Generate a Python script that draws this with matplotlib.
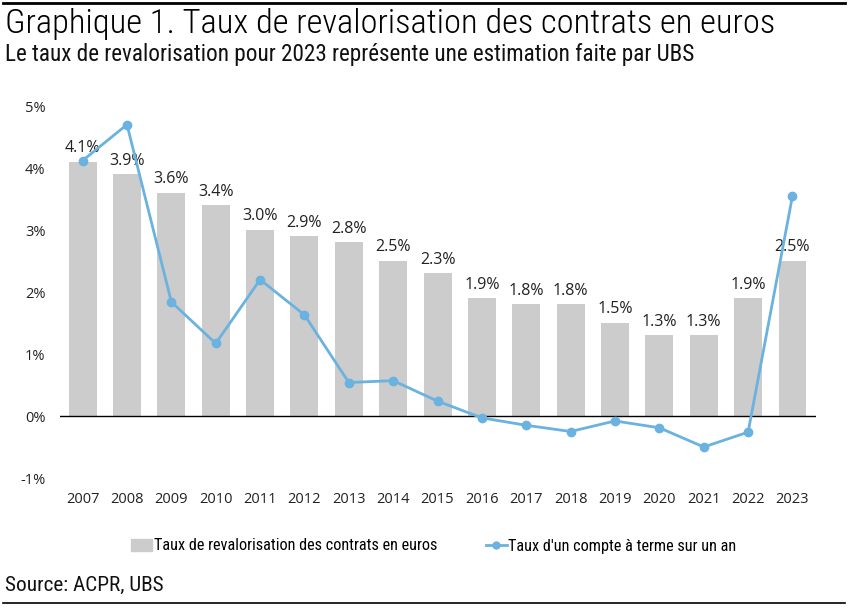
import matplotlib
matplotlib.use("Agg")
import matplotlib.pyplot as plt
from matplotlib import font_manager
from matplotlib.lines import Line2D
from matplotlib.patches import Patch
import numpy as np

# ---- data ----
years = ["2007", "2008", "2009", "2010", "2011", "2012", "2013", "2014", "2015",
         "2016", "2017", "2018", "2019", "2020", "2021", "2022", "2023"]
revalo = [4.1, 3.9, 3.6, 3.4, 3.0, 2.9, 2.8, 2.5, 2.3,
          1.9, 1.8, 1.8, 1.5, 1.3, 1.3, 1.9, 2.5]
revalo_labels = ["4.1%", "3.9%", "3.6%", "3.4%", "3.0%", "2.9%", "2.8%", "2.5%", "2.3%",
                 "1.9%", "1.8%", "1.8%", "1.5%", "1.3%", "1.3%", "1.9%", "2.5%"]
compte_terme = [4.12, 4.70, 1.84, 1.17, 2.20, 1.63, 0.54, 0.57, 0.24,
                -0.03, -0.15, -0.25, -0.08, -0.19, -0.50, -0.26, 3.55]
y_ticks = [-1, 0, 1, 2, 3, 4, 5]

BAR_COLOR = "#CCCCCC"
LINE_COLOR = "#6AB2DF"

# narrow face for titles/legend (Roboto Condensed in the sandbox)
installed = {f.name for f in font_manager.fontManager.ttflist}
narrow_candidates = ["Roboto Condensed", "Liberation Sans Narrow", "Open Sans Condensed"]
narrow_name = next((n for n in narrow_candidates if n in installed), "DejaVu Sans")
NARROW = [narrow_name, "DejaVu Sans"]
BODY = ["Open Sans", "DejaVu Sans"]

fig = plt.figure(figsize=(8.57, 6.08), dpi=100)
ax = fig.add_axes([60 / 857, 1 - 478 / 608, (816 - 60) / 857, (478 - 106) / 608])

x = np.arange(len(years))
ax.bar(x, revalo, width=0.63, color=BAR_COLOR, zorder=1)
ax.plot(x, compte_terme, color=LINE_COLOR, lw=2.0, marker="o", ms=6, zorder=3)

for xi, v, lab in zip(x, revalo, revalo_labels):
    ax.annotate(lab, (xi, v), xytext=(0, 4), textcoords="offset points",
                ha="center", va="bottom", fontsize=11.5, color="#222222",
                family=BODY, zorder=2)

ax.axhline(0, color="black", lw=1.0, zorder=2)
ax.set_xlim(-0.51, 16.53)
ax.set_ylim(-1, 5)
ax.set_yticks(y_ticks)
ax.set_yticklabels([f"{t}%" for t in y_ticks], family=BODY, fontsize=10.5, color="#222222")
ax.set_xticks(x)
ax.set_xticklabels(years, family=BODY, fontsize=10.5, color="#222222")
ax.tick_params(axis="both", length=0)
ax.tick_params(axis="y", pad=10.5)
ax.tick_params(axis="x", pad=10)
for s in ax.spines.values():
    s.set_visible(False)

# ---- titles, legend, source ----
fig.add_artist(Line2D([3 / 857, 845 / 857], [1 - 3 / 608] * 2, color="black", lw=2))
fig.text(5 / 857, 1 - 24 / 608, "Graphique 1. Taux de revalorisation des contrats en euros",
         family=NARROW, weight="light", fontsize=24.8, va="center", ha="left")
fig.text(5 / 857, 1 - 55 / 608,
         "Le taux de revalorisation pour 2023 représente une estimation faite par UBS",
         family=NARROW, fontsize=16.7, va="center", ha="left", color="#111111")

handles = [Patch(color=BAR_COLOR),
           Line2D([], [], color=LINE_COLOR, lw=2, marker="o", ms=5)]
fig.legend(handles, ["Taux de revalorisation des contrats en euros",
                     "Taux d'un compte à terme sur un an"],
           loc="center", bbox_to_anchor=(0.506, 1 - 546 / 608), ncol=2, frameon=False,
           prop={"family": NARROW, "size": 11.7},
           handlelength=1.3, handletextpad=0.1, columnspacing=3.0)

fig.text(5 / 857, 1 - 585 / 608, "Source: ACPR, UBS", family=NARROW,
         fontsize=15.3, va="center", ha="left", color="#111111")
fig.add_artist(Line2D([3 / 857, 845 / 857], [1 - 603 / 608] * 2, color="black", lw=1.2))

fig.savefig("out.png", dpi=100)
